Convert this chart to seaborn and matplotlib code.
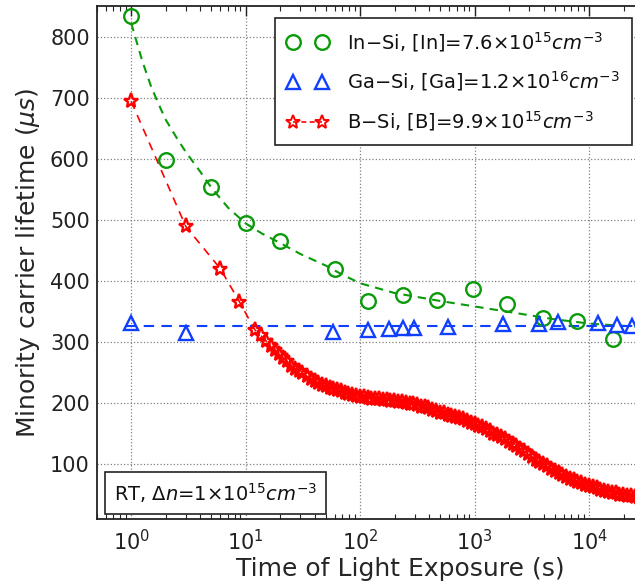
import matplotlib
matplotlib.use("Agg")
import matplotlib.pyplot as plt
from matplotlib.lines import Line2D
import seaborn as sns
import numpy as np

# ---------------- data ----------------
in_t = [1, 2, 5, 10, 20, 60, 118, 235, 470, 960, 1900, 3950, 7900, 16000]
in_v = [834, 598, 553, 494, 466, 419, 367, 376, 368, 386, 362, 339, 335, 305]

in_fit_t = [1, 1.25, 1.5, 1.75, 2, 2.5, 3, 4, 5, 7, 10, 14, 20, 30, 50, 70, 100,
            200, 500, 1000, 2000, 5000, 10000, 30000]
in_fit_v = [822, 760, 717, 688, 664, 634, 611, 579, 553, 520, 494, 477, 462, 444,
            425, 410, 396, 380, 367, 358, 349, 337, 330, 324]

ga_t = [1, 3, 58, 118, 178, 235, 298, 585, 1760, 3630, 5320, 12000, 17500, 23500]
ga_v = [331, 315, 317, 320, 321, 322, 323, 324, 330, 330, 333, 331, 328, 326]

ga_fit_t = [0.9, 30000]
ga_fit_v = [326, 326]

b_t = [1, 3, 6, 8.8, 12, 13.5, 15, 16.5, 18, 19.5, 21, 23, 25, 27, 29, 31, 34, 37, 40,
       43, 46, 50, 54, 58, 63, 68, 73, 79, 85, 92, 100, 108, 116, 125, 135, 146, 158,
       170, 184, 198, 214, 231, 250, 270, 290, 315, 340, 365, 395, 425, 460, 500, 540,
       580, 625, 675, 730, 790, 850, 920, 1000, 1080, 1160, 1250, 1350, 1460, 1580,
       1700, 1840, 1980, 2140, 2310, 2500, 2700, 2900, 3150, 3400, 3650, 3950, 4250,
       4600, 5000, 5400, 5800, 6250, 6750, 7300, 7900, 8500, 9200, 10000, 10800,
       11600, 12500, 13500, 14600, 15800, 17000, 18400, 19800, 21400, 23100, 25000,
       27000, 29000, 31500]
b_v = [694, 489, 420, 366, 320, 311, 302, 294, 287, 280, 274, 268, 261, 256, 252, 249,
       244, 239, 236, 233, 230, 227, 225, 223, 221, 219, 217, 215, 213, 211, 210, 209,
       208, 207, 207, 206, 205, 205, 204, 203, 202, 201, 200, 199, 198, 196, 194, 193,
       191, 189, 187, 184, 183, 181, 179, 177, 175, 173, 171, 168, 165, 163, 160, 157,
       154, 150, 147, 144, 141, 136, 133, 129, 125, 121, 117, 112, 107, 104, 100, 96,
       92, 88, 85, 82, 79, 76, 74, 71, 69, 66, 64, 62, 60, 58, 56, 55, 53, 52, 50, 49,
       48, 47, 46, 45, 44, 43]

labels = [r'In$-$Si, [In]=7.6$\times$10$^{15}$$cm^{-3}$',
          r'Ga$-$Si, [Ga]=1.2$\times$10$^{16}$$cm^{-3}$',
          r'B$-$Si, [B]=9.9$\times$10$^{15}$$cm^{-3}$']
note = r'RT, $\Delta n$=1×10$^{15}$$cm^{-3}$'
xlabel = 'Time of Light Exposure (s)'
ylabel = r'Minority carrier lifetime ($\mu s$)'
xticks = [1, 10, 100, 1000, 10000]
yticks = [100, 200, 300, 400, 500, 600, 700, 800]

# ---------------- style ----------------
sns.set_theme(style="white")
plt.rcParams['font.family'] = ['DejaVu Sans']
plt.rcParams['mathtext.fontset'] = 'dejavusans'
plt.rcParams['text.color'] = '#111111'

GREEN = '#0a9a0a'
BLUE = '#1040ff'
RED = '#ff0000'

W, H = 635, 584
fig = plt.figure(figsize=(W / 100, H / 100), dpi=100)
left_px, bottom_px, top_px = 96.7, 519, 6
xmin, xmax = 0.5, 1e5
dec_px = 114.5
ax_w_px = dec_px * np.log10(xmax / xmin)
ax = fig.add_axes([left_px / W, 1 - bottom_px / H, ax_w_px / W, (bottom_px - top_px) / H])

# fit lines
sns.lineplot(x=in_fit_t, y=in_fit_v, ax=ax, color=GREEN, lw=1.5,
             linestyle=(0, (4, 3)), estimator=None, sort=False, zorder=2)
sns.lineplot(x=ga_fit_t, y=ga_fit_v, ax=ax, color=BLUE, lw=1.5,
             linestyle=(0, (5, 3.5)), estimator=None, sort=False, zorder=2)

# B-Si data with dashed connecting line
sns.lineplot(x=b_t, y=b_v, ax=ax, color=RED, lw=1.2, linestyle=(0, (5, 4)),
             marker='*', markersize=11, mfc='none', mec=RED, mew=1.7,
             estimator=None, sort=False, zorder=3)

# In-Si and Ga-Si markers only
sns.lineplot(x=in_t, y=in_v, ax=ax, color=GREEN, linestyle='none', marker='o',
             markersize=10.5, mfc='none', mec=GREEN, mew=1.7,
             estimator=None, sort=False, zorder=4)
sns.lineplot(x=ga_t, y=ga_v, ax=ax, color=BLUE, linestyle='none', marker='^',
             markersize=10.5, mfc='none', mec=BLUE, mew=1.7,
             estimator=None, sort=False, zorder=4)

ax.set_xscale('log')
ax.set_xlim(xmin, xmax)
ax.set_ylim(10, 850)
ax.set_xticks(xticks)
ax.set_yticks(yticks)
ax.grid(True, which='major', color='0.5', linestyle=':', linewidth=0.9)
ax.tick_params(axis='both', which='major', direction='in', length=7, width=1,
               labelsize=15, top=True, right=True, colors='#222222')
ax.tick_params(axis='y', pad=5)
ax.tick_params(axis='x', pad=7)
ax.tick_params(axis='x', which='minor', direction='in', length=3.5, width=0.8,
               top=True, bottom=True, colors='#222222')
for s in ax.spines.values():
    s.set_color('#222222')
    s.set_linewidth(1.3)

ax.set_xlabel(xlabel, fontsize=18, labelpad=2)
ax.set_ylabel(ylabel, fontsize=18, labelpad=6)

# legend
handles = [
    Line2D([], [], linestyle='none', marker='o', markersize=10.5, mfc='none', mec=GREEN, mew=1.7),
    Line2D([], [], linestyle='none', marker='^', markersize=10.5, mfc='none', mec=BLUE, mew=1.7),
    Line2D([], [], color=RED, lw=1.2, linestyle=(0, (3, 2)), marker='*', markersize=10,
           mfc='none', mec=RED, mew=1.4),
]
leg = ax.legend(handles, labels, loc='upper left', bbox_to_anchor=(275 / W, 1 - 18 / H),
                bbox_transform=fig.transFigure, borderaxespad=0, numpoints=2,
                fontsize=14, frameon=True, fancybox=False, framealpha=1,
                edgecolor='#222222', handlelength=2.1, handletextpad=1.0,
                labelspacing=0.82, borderpad=0.6)
leg.get_frame().set_linewidth(1.2)

# note box
fig.text(106 / W + 0.012, 1 - 513 / H + 0.014, note, fontsize=14, ha='left', va='bottom',
         bbox=dict(boxstyle='square,pad=0.45', fc='white', ec='#222222', lw=1.2))

fig.savefig('out.png', dpi=100)
